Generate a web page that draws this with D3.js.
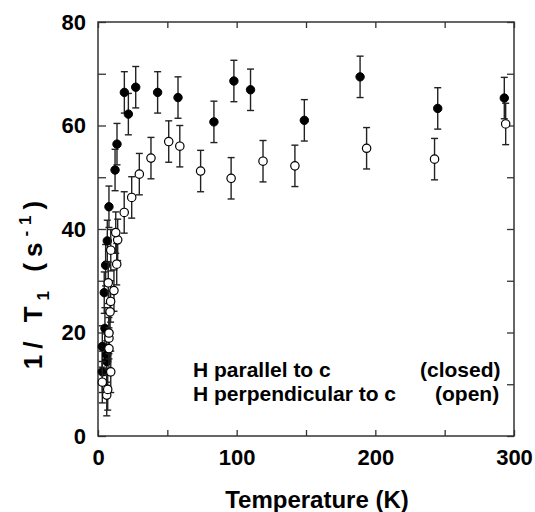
<!DOCTYPE html>
<html><head><meta charset="utf-8">
<script src="https://cdn.jsdelivr.net/npm/d3@7"></script>
<style>body{margin:0;background:#fff}svg{display:block}text{font-family:"Liberation Sans",Arial,sans-serif;font-weight:bold}</style>
</head><body>
<script>
// Data: H parallel to c (closed symbols)
const closedT = [3.1, 3.1, 4.5, 5.0, 5.5, 6.3, 6.3, 6.7, 7.9, 12.3, 13.7, 19, 21.9, 27.2, 43, 57.7, 83.6, 98, 110, 148.8, 189, 245, 293];
const closedV = [12.4, 17.3, 27.7, 20.8, 33.0, 15.7, 14.4, 37.7, 44.3, 51.4, 56.4, 66.4, 62.2, 67.4, 66.4, 65.4, 60.7, 68.6, 66.9, 61.0, 69.4, 63.3, 65.3];
const closedErr = closedT.map(() => 4);
// H perpendicular to c (open symbols)
const openT = [3.1, 6.3, 7.0, 9.2, 7.9, 7.9, 7.9, 8.7, 9.1, 11.5, 7.4, 13.5, 9.2, 14.2, 12.8, 18.9, 24.3, 29.8, 38.2, 51, 59, 74, 96, 119, 142, 193.7, 242.7, 294];
const openV = [10.4, 7.9, 9.0, 12.4, 16.9, 18.9, 19.9, 24.0, 26.0, 28.1, 29.6, 33.2, 35.9, 37.9, 39.3, 43.2, 46.1, 50.6, 53.7, 56.9, 56.0, 51.2, 49.8, 53.1, 52.2, 55.6, 53.5, 60.3];
const openErr = openT.map(() => 4);
const xTicks = [0, 50, 100, 150, 200, 250, 300];
const yTicks = [0, 10, 20, 30, 40, 50, 60, 70, 80];

const W = 535, H = 512;
const m = {l: 98, r: 21, t: 22, b: 76};
const svg = d3.select("body").append("svg").attr("width", W).attr("height", H);
const x = d3.scaleLinear().domain([0, 300]).range([m.l, W - m.r]);
const y = d3.scaleLinear().domain([0, 80]).range([H - m.b, m.t]);

const axCol = "#333";
function styleAxis(g) {
  g.select(".domain").remove();
  g.selectAll(".tick line").attr("stroke", axCol).attr("stroke-width", 1.3);
  g.selectAll("text").attr("fill", "#000").style("font-size", "22px").style("font-weight", "bold");
}
svg.append("g").attr("transform", `translate(0,${y(0)})`)
  .call(d3.axisBottom(x).tickValues(xTicks).tickSize(-6).tickPadding(13).tickFormat(d => d % 100 === 0 ? d : ""))
  .call(styleAxis);
svg.append("g").attr("transform", `translate(0,${y(80)})`)
  .call(d3.axisTop(x).tickValues(xTicks).tickSize(-6).tickFormat(""))
  .call(styleAxis);
svg.append("g").attr("transform", `translate(${x(0)},0)`)
  .call(d3.axisLeft(y).tickValues(yTicks).tickSize(-8).tickPadding(12).tickFormat(d => d % 20 === 0 ? d : ""))
  .call(styleAxis);
svg.append("g").attr("transform", `translate(${x(300)},0)`)
  .call(d3.axisRight(y).tickValues(yTicks).tickSize(-7).tickFormat(""))
  .call(styleAxis);

svg.append("rect").attr("x", x(0)).attr("y", y(80)).attr("width", x(300) - x(0)).attr("height", y(0) - y(80))
  .attr("fill", "none").attr("stroke", axCol).attr("stroke-width", 1.5);

function drawSeries(T, V, E) {
  const data = T.map((t, i) => ({t, v: V[i], e: E[i]}));
  const g = svg.append("g");
  const eb = g.selectAll("g.eb").data(data).join("g").attr("stroke", "#222").attr("stroke-width", 1.4);
  eb.append("line").attr("x1", d => x(d.t)).attr("x2", d => x(d.t)).attr("y1", d => y(d.v - d.e)).attr("y2", d => y(d.v + d.e));
  eb.append("line").attr("x1", d => x(d.t) - 3.5).attr("x2", d => x(d.t) + 3.5).attr("y1", d => y(d.v - d.e)).attr("y2", d => y(d.v - d.e));
  eb.append("line").attr("x1", d => x(d.t) - 3.5).attr("x2", d => x(d.t) + 3.5).attr("y1", d => y(d.v + d.e)).attr("y2", d => y(d.v + d.e));
  return {g, data};
}
const sc = drawSeries(closedT, closedV, closedErr);
const so = drawSeries(openT, openV, openErr);
sc.g.selectAll("circle").data(sc.data).join("circle").attr("cx", d => x(d.t)).attr("cy", d => y(d.v)).attr("r", 4.2)
  .attr("fill", "#000").attr("stroke", "#000").attr("stroke-width", 1);
so.g.selectAll("circle").data(so.data).join("circle").attr("cx", d => x(d.t)).attr("cy", d => y(d.v)).attr("r", 4.2)
  .attr("fill", "#fff").attr("stroke", "#000").attr("stroke-width", 1.2);

// Legend text
const lg = svg.append("g").style("font-size", "21px");
lg.append("text").attr("x", 193).attr("y", 377).text("H parallel to c");
lg.append("text").attr("x", 420).attr("y", 377).text("(closed)");
lg.append("text").attr("x", 193).attr("y", 401).text("H perpendicular to c");
lg.append("text").attr("x", 435).attr("y", 401).text("(open)");

// Axis titles
svg.append("text").attr("x", 317).attr("y", 508).attr("text-anchor", "middle").style("font-size", "24px").text("Temperature (K)");
const yt = svg.append("text").attr("transform", "translate(42,282) rotate(-90)").attr("text-anchor", "middle")
  .style("font-size", "26px").style("letter-spacing", "6px");
yt.append("tspan").text("1/ T");
yt.append("tspan").attr("dy", 7).style("font-size", "17px").text("1");
yt.append("tspan").attr("dy", -7).text(" (s");
yt.append("tspan").attr("dy", -11).style("font-size", "17px").text("-1");
yt.append("tspan").attr("dy", 11).text(")");
</script>
</body></html>
